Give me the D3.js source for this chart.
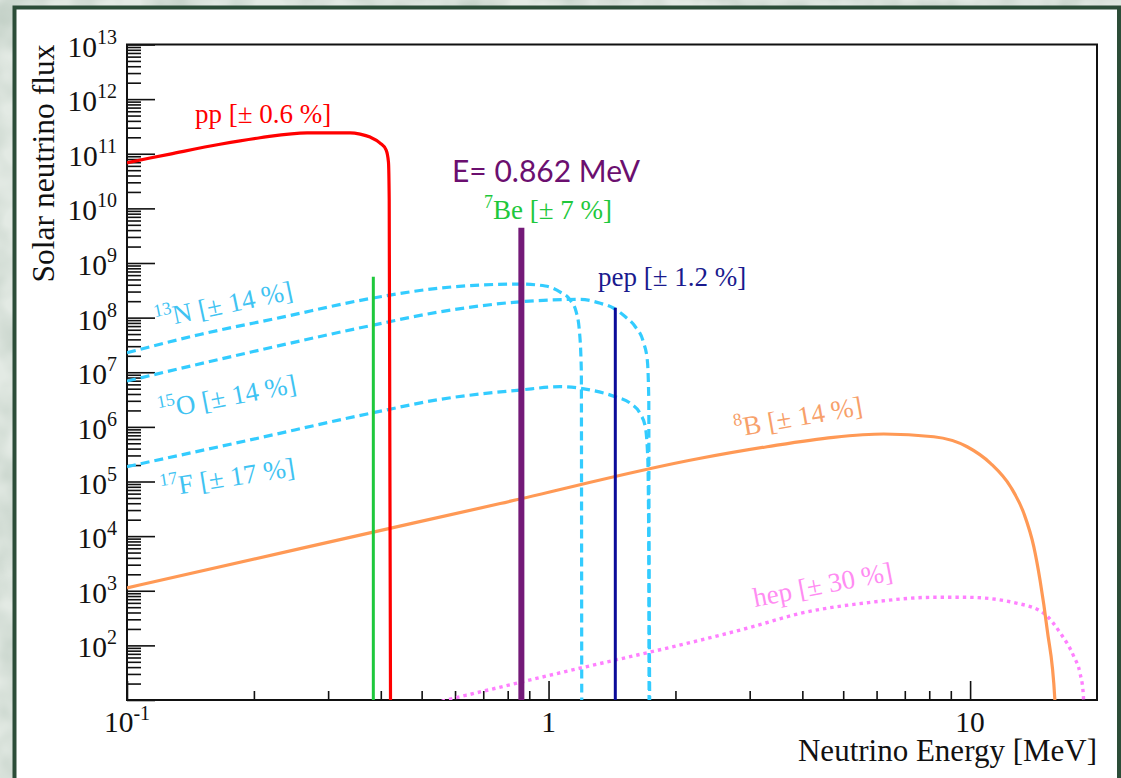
<!DOCTYPE html>
<html>
<head>
<meta charset="utf-8">
<script src="https://cdn.jsdelivr.net/npm/d3@7"></script>
<style>
  body { margin: 0; background: #dfe7e0; }
  svg { display: block; }
  text { font-family: "Liberation Serif", "Times New Roman", serif; }
</style>
</head>
<body>
<div id="chart"></div>
<script>
// ---- data (energy in MeV, flux per MeV) ----
let ppE = [0.1, 0.1134, 0.1265, 0.1662, 0.2068, 0.2675, 0.3383, 0.3573, 0.3773, 0.3985, 0.4119, 0.4171, 0.4188, 0.4221];
let ppF = [6.84e10, 8.34e10, 9.87e10, 1.49e11, 1.96e11, 2.42e11, 2.42e11, 2.29e11, 2.02e11, 1.57e11, 1.17e11, 7.05e10, 1.42e10, 1];

let n13E = [0.1, 0.149, 0.2307, 0.384, 0.553, 0.857, 0.982, 1.066, 1.126, 1.163, 1.183, 1.196, 1.199];
let n13F = [2.28e7, 4.92e7, 1.0e8, 2.29e8, 3.48e8, 4.12e8, 3.79e8, 2.94e8, 2.1e8, 1.27e8, 5.93e7, 1.1e7, 1];

let o15E = [0.1, 0.1959, 0.384, 0.553, 0.857, 1.189, 1.327, 1.424, 1.521, 1.606, 1.678, 1.715, 1.729, 1.732];
let o15F = [6.9e6, 2.32e7, 7.31e7, 1.28e8, 1.95e8, 2.16e8, 1.83e8, 1.5e8, 1.04e8, 6.81e7, 3.62e7, 1.67e7, 3.1e6, 1];

let f17E = [0.1, 0.1959, 0.384, 0.553, 0.857, 1.066, 1.256, 1.44, 1.563, 1.651, 1.696, 1.72, 1.74];
let f17F = [1.87e5, 5.77e5, 1.82e6, 3.19e6, 4.73e6, 5.44e6, 4.73e6, 3.56e6, 2.7e6, 1.72e6, 1.01e6, 2.47e5, 1];

let b8E = [0.1, 0.2574, 0.768, 2.292, 3.30, 4.74, 6.24, 8.2, 9.84, 11.18, 12.47, 13.41, 14.16, 14.65, 15.24, 15.89, 16.0];
let b8F = [1.13e3, 5.9e3, 3.95e4, 2.66e5, 4.33e5, 6.44e5, 7.4e5, 6.6e5, 4.33e5, 2.15e5, 8.02e4, 2.62e4, 6.4e3, 1.57e3, 191, 10, 1];

let hepE = [0.496, 1.009, 3.01, 3.96, 5.70, 8.2, 9.84, 12.94, 14.96, 16.39, 17.63, 18.23, 18.55, 18.7];
let hepF = [7.67, 28.5, 214, 386, 604, 758, 758, 589, 386, 166, 62, 30.8, 13.3, 1];

// monoenergetic lines
let lineE = [0.384, 0.862, 1.44];
let lineF = [5.6e8, 4.4e9, 1.52e8];

// axis ticks
let xMajor = [0.1, 1, 10];
let xTickLabels = [["10", "-1"], ["1", ""], ["10", ""]];
let yExp = [13, 12, 11, 10, 9, 8, 7, 6, 5, 4, 3, 2];

// ---- layout ----
let width = 1121;
let height = 778;
let pLeft = 127, pRight = 1097, pTop = 44.5, pBottom = 700;

let svg = d3.select("#chart")
  .append("svg")
  .attr("width", width)
  .attr("height", height);

// mottled slide background
let defs = svg.append("defs");
let tex = defs.append("filter").attr("id", "tex").attr("x", 0).attr("y", 0).attr("width", 1).attr("height", 1);
tex.append("feTurbulence").attr("type", "fractalNoise").attr("baseFrequency", 0.02).attr("numOctaves", 3).attr("seed", 4);
tex.append("feColorMatrix").attr("type", "matrix")
  .attr("values", "0 0 0 0 0.42  0 0 0 0 0.52  0 0 0 0 0.45  1.3 0 0 0 -0.45");
defs.append("clipPath").attr("id", "plotClip")
  .append("rect").attr("x", pLeft).attr("y", pTop).attr("width", pRight - pLeft).attr("height", pBottom - pTop);

svg.append("rect").attr("width", width).attr("height", height).attr("fill", "#e3eae4");
svg.append("rect").attr("width", width).attr("height", height).attr("filter", "url(#tex)");

// white slide panel with green border
svg.append("rect")
  .attr("x", 14.5).attr("y", 7.5)
  .attr("width", 1104.5).attr("height", 820)
  .attr("fill", "#ffffff")
  .attr("stroke", "#2c4d38")
  .attr("stroke-width", 4);

// scales
let xScale = d3.scaleLog().domain([0.1, 20]).range([pLeft, pRight]);
let yScale = d3.scaleLog().domain([10, 1e13]).range([pBottom, pTop]);

// minor tick values (2..9 in every decade)
let xMinor = [];
[0.1, 1, 10].forEach(function (d) {
  for (let k = 2; k <= 9; k++) if (d * k < 20) xMinor.push(d * k);
});
let yMajor = yExp.map(function (e) { return Math.pow(10, e); }).concat([10]);
let yMinor = [];
for (let e = 1; e < 13; e++) {
  for (let k = 2; k <= 9; k++) yMinor.push(k * Math.pow(10, e));
}

function styleAxis(g) {
  g.select(".domain").remove();
  g.selectAll(".tick line").attr("stroke", "#111").attr("stroke-width", 1.6);
}

svg.append("g").attr("transform", "translate(0," + pBottom + ")")
  .call(d3.axisBottom(xScale).tickValues(xMajor).tickSize(-19).tickFormat(""))
  .call(styleAxis);
svg.append("g").attr("transform", "translate(0," + pBottom + ")")
  .call(d3.axisBottom(xScale).tickValues(xMinor).tickSize(-9).tickFormat(""))
  .call(styleAxis);
svg.append("g").attr("transform", "translate(" + pLeft + ",0)")
  .call(d3.axisLeft(yScale).tickValues(yMajor).tickSize(-28).tickFormat(""))
  .call(styleAxis);
svg.append("g").attr("transform", "translate(" + pLeft + ",0)")
  .call(d3.axisLeft(yScale).tickValues(yMinor).tickSize(-14).tickFormat(""))
  .call(styleAxis);

// frame
svg.append("rect")
  .attr("x", pLeft).attr("y", pTop)
  .attr("width", pRight - pLeft).attr("height", pBottom - pTop)
  .attr("fill", "none")
  .attr("stroke", "#111")
  .attr("stroke-width", 2);

// y tick labels 10^n
yExp.forEach(function (e) {
  let t = svg.append("text")
    .attr("x", 117)
    .attr("y", yScale(Math.pow(10, e)) + 12)
    .attr("text-anchor", "end")
    .attr("font-size", 29.5)
    .attr("fill", "#111");
  t.append("tspan").text("10");
  t.append("tspan").attr("dy", -13).attr("font-size", 20).text(e);
});

// x tick labels
xMajor.forEach(function (v, i) {
  let t = svg.append("text")
    .attr("x", xScale(v))
    .attr("y", 732)
    .attr("text-anchor", "middle")
    .attr("font-size", 29.5)
    .attr("fill", "#111");
  t.append("tspan").text(xTickLabels[i][0]);
  if (xTickLabels[i][1]) {
    t.append("tspan").attr("dy", -12).attr("font-size", 20).text(xTickLabels[i][1]);
  }
});

// axis titles
svg.append("text")
  .attr("x", pRight).attr("y", 761)
  .attr("text-anchor", "end")
  .attr("font-size", 31)
  .attr("fill", "#111")
  .text("Neutrino Energy [MeV]");
svg.append("text")
  .attr("transform", "translate(53.5," + pTop + ") rotate(-90)")
  .attr("text-anchor", "end")
  .attr("font-size", 31.5)
  .attr("fill", "#111")
  .text("Solar neutrino flux");

// ---- curves ----
let plot = svg.append("g").attr("clip-path", "url(#plotClip)");
let line = d3.line()
  .x(function (d) { return xScale(d[0]); })
  .y(function (d) { return yScale(d[1]); })
  .curve(d3.curveMonotoneX);

function drawCurve(es, fs, color, w, dash) {
  plot.append("path")
    .datum(d3.zip(es, fs))
    .attr("d", line)
    .attr("fill", "none")
    .attr("stroke", color)
    .attr("stroke-width", w)
    .attr("stroke-dasharray", dash || null)
    .attr("stroke-linejoin", "round");
}

drawCurve(hepE, hepF, "#ff80ff", 3.4, "3.4,4");
drawCurve(b8E, b8F, "#ff9955", 3.2);
drawCurve(n13E, n13F, "#33ccff", 3.2, "9,5");
drawCurve(o15E, o15F, "#33ccff", 3.2, "9,5");
drawCurve(f17E, f17F, "#33ccff", 3.2, "9,5");
drawCurve(ppE, ppF, "#ff0000", 3.2);

// monoenergetic lines: 7Be (0.384), 7Be (0.862), pep
let lineColors = ["#1ec83c", "#741a78", "#0b0b99"];
let lineWidths = [3, 6, 3];
plot.selectAll(".mono")
  .data(lineE)
  .enter()
  .append("line")
  .attr("class", "mono")
  .attr("x1", function (d) { return xScale(d); })
  .attr("x2", function (d) { return xScale(d); })
  .attr("y1", yScale(10))
  .attr("y2", function (d, i) { return yScale(lineF[i]); })
  .attr("stroke", function (d, i) { return lineColors[i]; })
  .attr("stroke-width", function (d, i) { return lineWidths[i]; });

// ---- annotations ----
let notes = [
  { sup: "", txt: "pp [± 0.6 %]", x: 195, y: 123, a: 0, c: "#ff0000" },
  { sup: "7", txt: "Be [± 7 %]", x: 484, y: 219, a: 0, c: "#1ec83c" },
  { sup: "", txt: "pep [± 1.2 %]", x: 598, y: 286, a: 0, c: "#1a1a8e" },
  { sup: "13", txt: "N [± 14 %]", x: 157, y: 328, a: -12, c: "#3fc3f2" },
  { sup: "15", txt: "O [± 14 %]", x: 160, y: 419, a: -11, c: "#3fc3f2" },
  { sup: "17", txt: "F [± 17 %]", x: 162, y: 497, a: -9, c: "#3fc3f2" },
  { sup: "8", txt: "B [± 14 %]", x: 736, y: 437, a: -10, c: "#f7a06a" },
  { sup: "", txt: "hep [± 30 %]", x: 755, y: 607, a: -11, c: "#ff8cf2" }
];
notes.forEach(function (n) {
  let t = svg.append("text")
    .attr("transform", "translate(" + n.x + "," + n.y + ") rotate(" + n.a + ")")
    .attr("font-size", 27)
    .attr("fill", n.c);
  if (n.sup) {
    t.append("tspan").attr("dy", -11).attr("font-size", 18).text(n.sup);
    t.append("tspan").attr("dy", 11).text(n.txt);
  } else {
    t.append("tspan").text(n.txt);
  }
});

svg.append("text")
  .attr("x", 452).attr("y", 182)
  .style("font-family", "Lato, 'Open Sans', sans-serif")
  .attr("font-size", 30)
  .attr("fill", "#6b0f6f")
  .text("E= 0.862 MeV");
</script>
</body>
</html>
